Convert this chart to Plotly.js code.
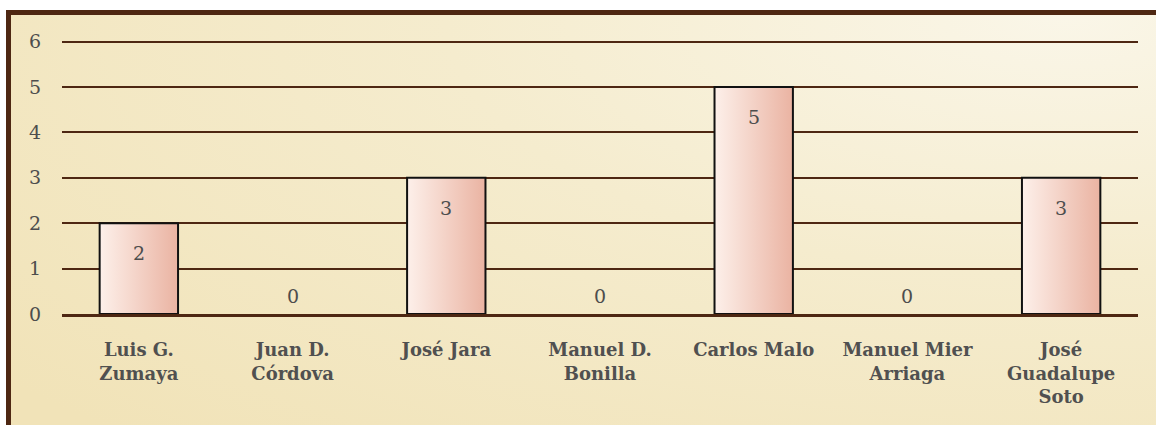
<!DOCTYPE html>
<html>
<head>
<meta charset="utf-8">
<script src="https://cdn.plot.ly/plotly-3.0.1.min.js"></script>
<style>
  html, body { margin: 0; padding: 0; background: #ffffff; }
  #frame {
    position: absolute; left: 6px; top: 10px; width: 1150px; height: 415px;
    box-sizing: border-box;
    border-top: 5px solid #4e2712; border-left: 5px solid #4e2712;
    background: radial-gradient(ellipse 120% 140% at 92% 0%, #faf6e8 0%, #f5ecce 45%, #f1e3b8 100%);
  }
  #chart { position: absolute; left: 0; top: 0; width: 1156px; height: 425px; }
</style>
</head>
<body>
<div id="frame"></div>
<svg width="0" height="0" style="position:absolute">
  <defs>
    <linearGradient id="barGrad" x1="0" y1="0" x2="1" y2="0">
      <stop offset="0" stop-color="#fdf0ea"/>
      <stop offset="1" stop-color="#eab3a2"/>
    </linearGradient>
  </defs>
</svg>
<div id="chart"></div>
<script>
// Category labels and counts
const names = [
  'Luis G.<br>Zumaya',
  'Juan D.<br>Córdova',
  'José Jara',
  'Manuel D.<br>Bonilla',
  'Carlos Malo',
  'Manuel Mier<br>Arriaga',
  'José<br>Guadalupe<br>Soto'
];
const counts = [2, 0, 3, 0, 5, 0, 3];
const yTicks = [0, 1, 2, 3, 4, 5, 6];

const labelFont = { family: 'DejaVu Serif, serif', size: 19, color: '#4d4d4d' };

function makeChart() {
    const trace = {
        type: 'bar',
        x: names,
        y: counts,
        marker: {
            color: '#f3d0c4',
            // no outline on empty bars
            line: { color: '#111111', width: counts.map(v => v > 0 ? 2 : 0) }
        },
        hoverinfo: 'none'
    };

    // value labels: inside the top of non-zero bars, above the axis for zeros
    const notes = names.map((n, i) => ({
        x: n,
        y: counts[i],
        text: String(counts[i]),
        showarrow: false,
        xanchor: 'center',
        yanchor: counts[i] > 0 ? 'top' : 'bottom',
        yshift: counts[i] > 0 ? -17 : 5,
        font: labelFont
    }));

    const layout = {
        width: 1156,
        height: 425,
        margin: { l: 62, r: 18, t: 37, b: 111 },
        paper_bgcolor: 'rgba(0,0,0,0)',
        plot_bgcolor: 'rgba(0,0,0,0)',
        bargap: 0.49,
        showlegend: false,
        xaxis: {
            type: 'category',
            showgrid: false,
            showline: true,
            linecolor: '#4e2712',
            linewidth: 2.5,
            ticks: '',
            ticklabelstandoff: 18,
            tickfont: { family: 'DejaVu Serif, serif', size: 18, color: '#505050', weight: 'bold' }
        },
        yaxis: {
            range: [0, 6.1],
            tickvals: yTicks,
            showgrid: true,
            gridcolor: '#4e2712',
            gridwidth: 2,
            zeroline: false,
            showline: false,
            ticks: '',
            ticklabelstandoff: 20,
            tickfont: labelFont
        },
        annotations: notes
    };

    Plotly.newPlot('chart', [trace], layout, { staticPlot: true }).then(gd => {
        gd.querySelectorAll('.bars path').forEach(p => {
            p.style.fill = 'url(#barGrad)';
        });
    });
}

document.addEventListener('DOMContentLoaded', makeChart);
</script>
</body>
</html>
